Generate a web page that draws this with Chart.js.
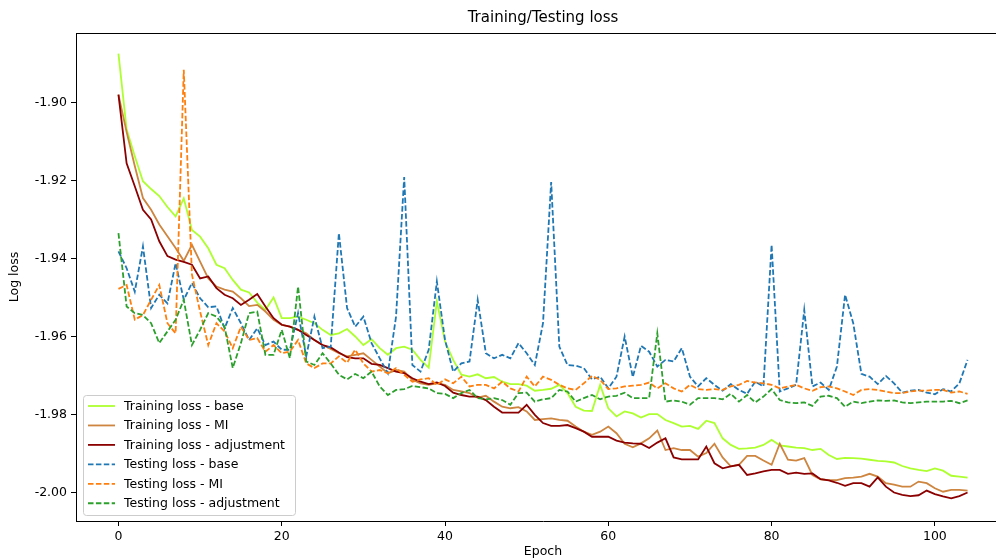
<!DOCTYPE html>
<html>
<head>
<meta charset="utf-8">
<title>Training/Testing loss</title>
<script src="https://cdn.jsdelivr.net/npm/chart.js@4.4.1/dist/chart.umd.min.js"></script>
<style>
  html, body { margin: 0; padding: 0; background: #fff; overflow: hidden; }
  #chart { display: block; }
</style>
</head>
<body>
<canvas id="chart" width="1012" height="558"></canvas>
<script>
// values (log loss per epoch)
const trainBase = [
  -1.8874, -1.9068, -1.9137, -1.9201, -1.9221, -1.9239, -1.9267, -1.9291, -1.9245, -1.9326,
  -1.9343, -1.9373, -1.9415, -1.9424, -1.9454, -1.9479, -1.9486, -1.9512, -1.9531, -1.9499,
  -1.9552, -1.9552, -1.9548, -1.9556, -1.9565, -1.9582, -1.9595, -1.9591, -1.9580, -1.9599,
  -1.9621, -1.9606, -1.9629, -1.9646, -1.9629, -1.9625, -1.9633, -1.9659, -1.9679, -1.9509,
  -1.9612, -1.9659, -1.9697, -1.9702, -1.9696, -1.9706, -1.9703, -1.9715, -1.9721, -1.9721,
  -1.9725, -1.9738, -1.9736, -1.9733, -1.9723, -1.9744, -1.9779, -1.9789, -1.9790, -1.9723,
  -1.9783, -1.9804, -1.9791, -1.9796, -1.9807, -1.9798, -1.9798, -1.9813, -1.9821, -1.9830,
  -1.9828, -1.9836, -1.9815, -1.9821, -1.9860, -1.9877, -1.9887, -1.9886, -1.9884, -1.9877,
  -1.9864, -1.9878, -1.9881, -1.9884, -1.9885, -1.9890, -1.9887, -1.9903, -1.9913, -1.9910,
  -1.9911, -1.9912, -1.9915, -1.9918, -1.9919, -1.9922, -1.9931, -1.9937, -1.9941, -1.9944,
  -1.9937, -1.9943, -1.9956, -1.9958, -1.9961
];
const trainMI = [
  -1.8979, -1.9075, -1.9162, -1.9244, -1.9274, -1.9312, -1.9342, -1.9372, -1.9405, -1.9364,
  -1.9407, -1.9450, -1.9471, -1.9479, -1.9484, -1.9501, -1.9521, -1.9518, -1.9535, -1.9556,
  -1.9569, -1.9574, -1.9582, -1.9591, -1.9608, -1.9621, -1.9631, -1.9642, -1.9650, -1.9646,
  -1.9642, -1.9659, -1.9676, -1.9693, -1.9685, -1.9689, -1.9710, -1.9719, -1.9723, -1.9719,
  -1.9723, -1.9736, -1.9740, -1.9744, -1.9756, -1.9751, -1.9766, -1.9779, -1.9783, -1.9780,
  -1.9791, -1.9813, -1.9811, -1.9809, -1.9813, -1.9815, -1.9830, -1.9843, -1.9851, -1.9843,
  -1.9830, -1.9847, -1.9874, -1.9883, -1.9873, -1.9860, -1.9840, -1.9890, -1.9885, -1.9890,
  -1.9890, -1.9907, -1.9898, -1.9874, -1.9909, -1.9932, -1.9928, -1.9905, -1.9905, -1.9917,
  -1.9928, -1.9874, -1.9915, -1.9917, -1.9911, -1.9954, -1.9965, -1.9967, -1.9967, -1.9962,
  -1.9961, -1.9958, -1.9951, -1.9958, -1.9975, -1.9979, -1.9984, -1.9984, -1.9971, -1.9975,
  -1.9988, -1.9997, -1.9992, -1.9992, -1.9994
];
const trainAdj = [
  -1.8979, -1.9155, -1.9214, -1.9274, -1.9299, -1.9355, -1.9393, -1.9402, -1.9408, -1.9415,
  -1.9450, -1.9445, -1.9475, -1.9492, -1.9501, -1.9518, -1.9505, -1.9490, -1.9522, -1.9552,
  -1.9569, -1.9574, -1.9582, -1.9595, -1.9608, -1.9621, -1.9627, -1.9640, -1.9652, -1.9655,
  -1.9655, -1.9669, -1.9672, -1.9680, -1.9689, -1.9693, -1.9706, -1.9715, -1.9721, -1.9717,
  -1.9726, -1.9743, -1.9749, -1.9753, -1.9753, -1.9762, -1.9779, -1.9794, -1.9794, -1.9794,
  -1.9774, -1.9800, -1.9821, -1.9828, -1.9828, -1.9826, -1.9834, -1.9843, -1.9856, -1.9856,
  -1.9856, -1.9866, -1.9871, -1.9873, -1.9874, -1.9885, -1.9871, -1.9860, -1.9909, -1.9914,
  -1.9914, -1.9914, -1.9881, -1.9924, -1.9937, -1.9932, -1.9928, -1.9954, -1.9950, -1.9945,
  -1.9941, -1.9941, -1.9951, -1.9948, -1.9951, -1.9950, -1.9965, -1.9968, -1.9974, -1.9982,
  -1.9975, -1.9975, -1.9984, -1.9960, -1.9984, -1.9999, -2.0005, -2.0008, -2.0006, -1.9994,
  -2.0003, -2.0009, -2.0014, -2.0008, -1.9999
];
const testBase = [
  -1.9381, -1.9424, -1.9484, -1.9368, -1.9526, -1.9492, -1.9514, -1.9411, -1.9505, -1.9462,
  -1.9501, -1.9524, -1.9522, -1.9578, -1.9526, -1.9565, -1.9608, -1.9578, -1.9621, -1.9612,
  -1.9633, -1.9633, -1.9539, -1.9650, -1.9548, -1.9629, -1.9625, -1.9334, -1.9526, -1.9574,
  -1.9548, -1.9616, -1.9655, -1.9693, -1.9548, -1.9190, -1.9672, -1.9689, -1.9633, -1.9458,
  -1.9608, -1.9689, -1.9668, -1.9663, -1.9505, -1.9642, -1.9655, -1.9646, -1.9655, -1.9616,
  -1.9642, -1.9672, -1.9565, -1.9203, -1.9625, -1.9672, -1.9674, -1.9680, -1.9709, -1.9702,
  -1.9732, -1.9702, -1.9599, -1.9703, -1.9623, -1.9638, -1.9676, -1.9659, -1.9663, -1.9629,
  -1.9702, -1.9727, -1.9706, -1.9723, -1.9738, -1.9721, -1.9736, -1.9746, -1.9715, -1.9727,
  -1.9364, -1.9740, -1.9732, -1.9723, -1.9531, -1.9727, -1.9717, -1.9736, -1.9676, -1.9492,
  -1.9565, -1.9695, -1.9702, -1.9721, -1.9700, -1.9719, -1.9743, -1.9738, -1.9736, -1.9743,
  -1.9747, -1.9734, -1.9740, -1.9719, -1.9659
];
const testMI = [
  -1.9477, -1.9467, -1.9556, -1.9544, -1.9505, -1.9467, -1.9565, -1.9591, -1.8915, -1.9440,
  -1.9535, -1.9621, -1.9565, -1.9586, -1.9629, -1.9574, -1.9608, -1.9603, -1.9638, -1.9621,
  -1.9642, -1.9638, -1.9608, -1.9668, -1.9680, -1.9668, -1.9668, -1.9650, -1.9666, -1.9633,
  -1.9668, -1.9689, -1.9685, -1.9693, -1.9680, -1.9697, -1.9715, -1.9709, -1.9706, -1.9723,
  -1.9709, -1.9719, -1.9702, -1.9727, -1.9723, -1.9723, -1.9732, -1.9715, -1.9732, -1.9740,
  -1.9702, -1.9727, -1.9702, -1.9710, -1.9723, -1.9732, -1.9736, -1.9719, -1.9700, -1.9710,
  -1.9734, -1.9732, -1.9727, -1.9725, -1.9723, -1.9717, -1.9732, -1.9719, -1.9732, -1.9740,
  -1.9723, -1.9734, -1.9736, -1.9734, -1.9736, -1.9727, -1.9723, -1.9713, -1.9717, -1.9719,
  -1.9723, -1.9732, -1.9727, -1.9723, -1.9732, -1.9738, -1.9729, -1.9727, -1.9732, -1.9740,
  -1.9749, -1.9736, -1.9734, -1.9736, -1.9740, -1.9744, -1.9744, -1.9740, -1.9738, -1.9738,
  -1.9736, -1.9736, -1.9743, -1.9740, -1.9746
];
const testAdj = [
  -1.9334, -1.9522, -1.9539, -1.9544, -1.9565, -1.9616, -1.9586, -1.9556, -1.9505, -1.9621,
  -1.9582, -1.9539, -1.9548, -1.9574, -1.9680, -1.9616, -1.9539, -1.9535, -1.9646, -1.9646,
  -1.9582, -1.9655, -1.9471, -1.9663, -1.9672, -1.9642, -1.9668, -1.9697, -1.9709, -1.9695,
  -1.9706, -1.9689, -1.9727, -1.9749, -1.9736, -1.9734, -1.9726, -1.9729, -1.9732, -1.9744,
  -1.9746, -1.9757, -1.9744, -1.9736, -1.9757, -1.9760, -1.9757, -1.9762, -1.9774, -1.9744,
  -1.9743, -1.9766, -1.9760, -1.9757, -1.9736, -1.9740, -1.9766, -1.9757, -1.9749, -1.9760,
  -1.9753, -1.9751, -1.9743, -1.9757, -1.9757, -1.9757, -1.9591, -1.9766, -1.9763, -1.9766,
  -1.9774, -1.9757, -1.9757, -1.9757, -1.9760, -1.9746, -1.9766, -1.9749, -1.9768, -1.9753,
  -1.9734, -1.9762, -1.9768, -1.9770, -1.9768, -1.9777, -1.9753, -1.9751, -1.9757, -1.9779,
  -1.9766, -1.9770, -1.9766, -1.9763, -1.9764, -1.9763, -1.9768, -1.9770, -1.9768, -1.9766,
  -1.9766, -1.9766, -1.9764, -1.9770, -1.9763
];

const xTicks = [0, 20, 40, 60, 80, 100];
const yTicks = [-2.00, -1.98, -1.96, -1.94, -1.92, -1.90];

const epochs = trainBase.map((_, i) => i);

const seriesList = [
  { label: "Training loss - base", values: trainBase, color: "#adff2f", dashed: false },
  { label: "Training loss - MI", values: trainMI, color: "#cd853f", dashed: false },
  { label: "Training loss - adjustment", values: trainAdj, color: "#8b0000", dashed: false },
  { label: "Testing loss - base", values: testBase, color: "#1f77b4", dashed: true },
  { label: "Testing loss - MI", values: testMI, color: "#ff7f0e", dashed: true },
  { label: "Testing loss - adjustment", values: testAdj, color: "#2ca02c", dashed: true }
];

const FONT = "'DejaVu Sans', 'Liberation Sans', sans-serif";
Chart.defaults.font.family = FONT;
Chart.defaults.font.size = 12.5;
Chart.defaults.color = "#000";

const dash = [5.5, 2.4];

// title + top/right spines + matplotlib style legend box
const extras = {
  id: "extras",
  afterDatasetsDraw(chart) {
    const { ctx, chartArea: a } = chart;
    ctx.save();
    ctx.strokeStyle = "#000";
    ctx.lineWidth = 1;
    ctx.beginPath();
    ctx.moveTo(a.left, a.top + 0.5);
    ctx.lineTo(a.right, a.top + 0.5);
    ctx.lineTo(a.right, a.bottom);
    ctx.stroke();

    ctx.font = "15px " + FONT;
    ctx.fillStyle = "#000";
    ctx.textAlign = "center";
    ctx.textBaseline = "middle";
    ctx.fillText("Training/Testing loss", (a.left + a.right) / 2, 18);

    // legend
    const bx = 83, by = 395, bw = 212, bh = 120;
    ctx.beginPath();
    ctx.roundRect(bx + 0.5, by + 0.5, bw, bh, 3);
    ctx.fillStyle = "rgba(255,255,255,0.8)";
    ctx.fill();
    ctx.strokeStyle = "#cccccc";
    ctx.stroke();

    ctx.font = "12.5px " + FONT;
    ctx.textAlign = "left";
    chart.data.datasets.forEach((ds, i) => {
      const y = 406 + i * 19.45;
      ctx.beginPath();
      ctx.setLineDash(ds.borderDash || []);
      ctx.strokeStyle = ds.borderColor;
      ctx.lineWidth = ds.borderWidth;
      ctx.moveTo(88, y);
      ctx.lineTo(115, y);
      ctx.stroke();
      ctx.setLineDash([]);
      ctx.fillStyle = "#000";
      ctx.fillText(ds.label, 124, y + 0.5);
    });
    ctx.restore();
  }
};

const ctx = document.getElementById("chart").getContext("2d");
new Chart(ctx, {
  type: "line",
  data: {
    datasets: seriesList.map((s, i) => ({
      label: s.label,
      data: epochs.map((e, j) => ({ x: e, y: s.values[j] })),
      borderColor: s.color,
      backgroundColor: s.color,
      borderWidth: 1.8,
      borderDash: s.dashed ? dash : [],
      pointRadius: 0,
      tension: 0,
      fill: false,
      // later series on top, like matplotlib
      order: seriesList.length - i
    }))
  },
  options: {
    responsive: false,
    animation: false,
    layout: { padding: { top: 33, right: 2, left: 0, bottom: 0 } },
    plugins: {
      legend: { display: false },
      title: { display: false },
      tooltip: { enabled: false }
    },
    scales: {
      x: {
        type: "linear",
        min: -5.2,
        max: 109.2,
        afterFit: (s) => { s.height = 37; },
        afterBuildTicks: (s) => { s.ticks = xTicks.map(v => ({ value: v })); },
        ticks: { padding: 3, maxRotation: 0, font: { size: 12.5 }, callback: (v) => String(v) },
        grid: { drawOnChartArea: false, drawTicks: true, tickLength: 5, color: "#000" },
        border: { display: true, color: "#000", width: 1 },
        title: { display: true, text: "Epoch", padding: { top: 0, bottom: 0 }, font: { size: 12.5, lineHeight: 1 } }
      },
      y: {
        type: "linear",
        min: -2.0072,
        max: -1.8821,
        afterFit: (s) => { s.width = 76; },
        afterBuildTicks: (s) => { s.ticks = yTicks.map(v => ({ value: v })); },
        ticks: { padding: 4, font: { size: 12.5 }, callback: (v) => v.toFixed(2) },
        grid: { drawOnChartArea: false, drawTicks: true, tickLength: 5, color: "#000" },
        border: { display: true, color: "#000", width: 1 },
        title: { display: true, text: "Log loss", padding: { top: 7, bottom: 0 }, font: { size: 12.5 } }
      }
    }
  },
  plugins: [extras]
});
</script>
</body>
</html>
